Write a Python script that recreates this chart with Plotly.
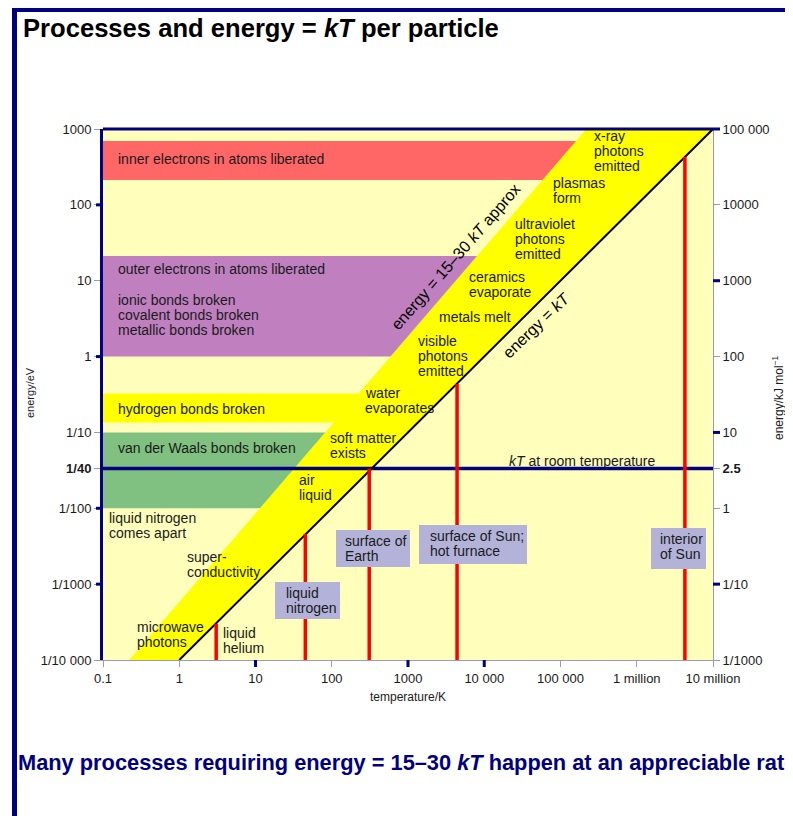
import math
import plotly.graph_objects as go

# ---------------- data ----------------
T_RANGE = [0.1, 1e7]          # temperature axis limits / K
E_RANGE = [1e-4, 1000]        # energy axis limits / eV

band_labels = ["inner electrons", "outer electrons", "hydrogen bonds", "van der Waals"]
band_low = [213, 1.0, 0.135, 0.01]
band_high = [695, 21.2, 0.326, 0.1]
band_colors = ["#FF6666", "#C080C0", "#FFFF00", "#80C080"]

# energy = kT line
kt_T = [1, 1e7]
kt_E = [1e-4, 1000]
# upper edge of the "energy = 15-30 kT" band
upper_T = [0.221, 2.18e5]
upper_E = [1e-4, 1000]

# red marker lines (temperature, top energy)
marker_names = ["liquid helium", "liquid nitrogen", "surface of Earth", "surface of Sun", "interior of Sun"]
marker_T = [3.05, 45, 310, 4400, 4.28e6]
marker_E = [3.0e-4, 4.6e-3, 0.0334, 0.435, 428]

room_kT = 0.0334

x_tick_vals = [0.1, 1, 10, 100, 1000, 1e4, 1e5, 1e6, 1e7]
x_tick_text = ["0.1", "1", "10", "100", "1000", "10 000", "100 000", "1 million", "10 million"]
y_tick_vals = [1000, 100, 10, 1, 0.1, 0.0334, 0.01, 0.001, 0.0001]
y_left_text = ["1000", "100", "10", "1", "1/10", "<b>1/40</b>", "1/100", "1/1000", "1/10 000"]
y_right_text = ["100 000", "10000", "1000", "100", "10", "<b>2.5</b>", "1", "1/10", "1/1000"]

left_navy_ticks = [100, 1, 0.01, 0.001]
right_navy_ticks = [10, 0.1, 0.001]
bottom_navy_ticks = [10, 1000, 1e4]

# ---------------- style ----------------
FONT = "Liberation Sans, Arial, sans-serif"
NAVY = "#000080"
LIGHT = "#FFFFBB"
GREY = "#9A9AC0"
BOX = "#B3B3D9"
TXT = "#1a1a1a"
PAGE_OFF = 8  # default body margin of the page

fig = go.Figure()

# horizontal bands
for name, lo, hi, col in zip(band_labels, band_low, band_high, band_colors):
    fig.add_trace(go.Scatter(
        x=[T_RANGE[0], T_RANGE[1], T_RANGE[1], T_RANGE[0], T_RANGE[0]],
        y=[lo, lo, hi, hi, lo], mode="lines", fill="toself", fillcolor=col,
        line=dict(width=0, color=col), hoverinfo="skip", showlegend=False, name=name))

# yellow 15-30 kT band
fig.add_trace(go.Scatter(
    x=[upper_T[0], upper_T[1], kt_T[1], kt_T[0], upper_T[0]],
    y=[upper_E[0], upper_E[1], kt_E[1], kt_E[0], upper_E[0]],
    mode="lines", fill="toself", fillcolor="#FFFF00", line=dict(width=0, color="#FFFF00"),
    hoverinfo="skip", showlegend=False))

# light region below kT line
fig.add_trace(go.Scatter(
    x=[kt_T[0], kt_T[1], T_RANGE[1], kt_T[0]],
    y=[kt_E[0], kt_E[1], E_RANGE[0], kt_E[0]],
    mode="lines", fill="toself", fillcolor=LIGHT, line=dict(width=0, color=LIGHT),
    hoverinfo="skip", showlegend=False))

# kT at room temperature line
fig.add_trace(go.Scatter(x=T_RANGE, y=[room_kT, room_kT], mode="lines",
                         line=dict(color=NAVY, width=3.5), hoverinfo="skip", showlegend=False))

# kT line
fig.add_trace(go.Scatter(x=kt_T, y=kt_E, mode="lines", line=dict(color="black", width=2),
                         hoverinfo="skip", showlegend=False))

# red marker lines
for name, t, e in zip(marker_names, marker_T, marker_E):
    fig.add_trace(go.Scatter(x=[t, t], y=[E_RANGE[0], e], mode="lines",
                             line=dict(color="#FF0000", width=3.5), hoverinfo="skip",
                             showlegend=False, name=name))

# invisible trace so the right axis is drawn
fig.add_trace(go.Scatter(x=[T_RANGE[0]], y=[E_RANGE[0]], yaxis="y2", mode="markers",
                         marker=dict(opacity=0), hoverinfo="skip", showlegend=False))

ann = []
shapes = []


def px_x(px):
    return (px - 103) / 610.0


def px_y(py):
    return (660 - py) / 531.0


def lab(lines, px, py_first, size=14, spacing=15):
    # one annotation per text line, left anchored at pixel column px
    for i, line in enumerate(lines):
        ann.append(dict(text=line, xref="paper", yref="paper", x=px_x(px), y=px_y(py_first + i * spacing),
                        xanchor="left", yanchor="middle", showarrow=False,
                        font=dict(family=FONT, size=size, color=TXT)))


lab(["inner electrons in atoms liberated"], 116, 159)
lab(["outer electrons in atoms liberated"], 116, 269)
lab(["ionic bonds broken", "covalent bonds broken", "metallic bonds broken"], 116, 300)
lab(["hydrogen bonds broken"], 116, 409)
lab(["van der Waals bonds broken"], 116, 448)
lab(["liquid nitrogen", "comes apart"], 107, 518)
lab(["super-", "conductivity"], 185, 557)
lab(["microwave", "photons"], 135, 627)
lab(["liquid", "helium"], 221, 633)
lab(["air", "liquid"], 297, 480)
lab(["soft matter", "exists"], 328, 438)
lab(["water", "evaporates"], 363, 393)
lab(["visible", "photons", "emitted"], 416, 341)
lab(["metals melt"], 437, 317)
lab(["ceramics", "evaporate"], 467, 277)
lab(["ultraviolet", "photons", "emitted"], 513, 224)
lab(["plasmas", "form"], 551, 183)
lab(["x-ray", "photons", "emitted"], 592, 136)

# rotated labels
ann.append(dict(text="energy = 15\u201330 <i>kT</i> approx", xref="paper", yref="paper",
                x=px_x(455), y=px_y(257), xanchor="center", yanchor="middle", textangle=-49,
                showarrow=False, font=dict(family=FONT, size=16, color="black")))
ann.append(dict(text="energy = <i>kT</i>", xref="paper", yref="paper",
                x=px_x(536), y=px_y(325), xanchor="center", yanchor="middle", textangle=-44,
                showarrow=False, font=dict(family=FONT, size=16, color="black")))
ann.append(dict(text="<i>kT</i> at room temperature", xref="paper", yref="paper",
                x=px_x(582), y=px_y(461), xanchor="center", yanchor="middle", showarrow=False,
                font=dict(family=FONT, size=14, color=TXT)))


# grey label boxes: background rectangle + text lines
def box(lines, x0, x1, y0, y1, tx, ty):
    shapes.append(dict(type="rect", xref="paper", yref="paper", x0=px_x(x0), x1=px_x(x1),
                       y0=px_y(y1), y1=px_y(y0), fillcolor=BOX, line=dict(width=0), layer="above"))
    lab(lines, tx, ty, size=14, spacing=15)


box(["surface of", "Earth"], 336, 410, 530, 567, 343, 541)
box(["liquid", "nitrogen"], 275, 340, 582, 619, 284, 593)
box(["surface of Sun;", "hot furnace"], 419, 527, 525, 564, 428, 536)
box(["interior", "of Sun"], 651, 706, 528, 569, 658, 539)

# axis titles
ann.append(dict(text="temperature/K", xref="paper", yref="paper", x=px_x(408), y=px_y(697),
                xanchor="center", yanchor="middle", showarrow=False,
                font=dict(family=FONT, size=12, color=TXT)))
ann.append(dict(text="energy/eV", xref="paper", yref="paper", x=px_x(30), y=px_y(393),
                xanchor="center", yanchor="middle", textangle=-90, showarrow=False,
                font=dict(family=FONT, size=11, color=TXT)))
ann.append(dict(text="energy/kJ mol<sup>\u22121</sup>", xref="paper", yref="paper", x=px_x(778),
                y=px_y(398), xanchor="center", yanchor="middle", textangle=-90, showarrow=False,
                font=dict(family=FONT, size=12, color=TXT)))

# title and footer
ann.append(dict(text="<b>Processes and energy = <i>kT</i> per particle</b>", xref="paper", yref="paper",
                x=px_x(21), y=px_y(28), xanchor="left", yanchor="middle", showarrow=False,
                font=dict(family=FONT, size=25.6, color="black")))
ann.append(dict(text="<b>Many processes requiring energy = 15\u201330 <i>kT</i> happen at an appreciable rate</b>",
                xref="paper", yref="paper", x=px_x(16), y=px_y(762), xanchor="left", yanchor="middle",
                showarrow=False, font=dict(family=FONT, size=21.8, color=NAVY)))

# frame bars
shapes.append(dict(type="line", xref="paper", yref="paper", x0=px_x(12), x1=px_x(800),
                   y0=px_y(9.5), y1=px_y(9.5), line=dict(color=NAVY, width=5)))
shapes.append(dict(type="line", xref="paper", yref="paper", x0=px_x(14.5), x1=px_x(14.5),
                   y0=px_y(7), y1=px_y(820), line=dict(color=NAVY, width=5)))
# top border of plot
shapes.append(dict(type="line", xref="paper", yref="paper", x0=0, x1=px_x(720),
                   y0=1, y1=1, line=dict(color=NAVY, width=3)))
# navy tick overlays
for v in left_navy_ticks:
    shapes.append(dict(type="line", xref="paper", yref="y", x0=px_x(96), x1=0, y0=v, y1=v,
                       line=dict(color=NAVY, width=3)))
for v in right_navy_ticks:
    shapes.append(dict(type="line", xref="paper", yref="y", x0=1, x1=px_x(720), y0=v, y1=v,
                       line=dict(color=NAVY, width=3)))
for v in bottom_navy_ticks:
    shapes.append(dict(type="line", xref="x", yref="paper", x0=v, x1=v, y0=0, y1=px_y(667),
                       line=dict(color=NAVY, width=3)))

tickfont = dict(family=FONT, size=13, color=TXT)
fig.update_layout(
    width=793 - PAGE_OFF, height=816 - PAGE_OFF,
    margin=dict(l=103 - PAGE_OFF, r=80, t=129 - PAGE_OFF, b=156),
    paper_bgcolor="white", plot_bgcolor=LIGHT,
    showlegend=False,
    xaxis=dict(type="log", range=[math.log10(T_RANGE[0]), math.log10(T_RANGE[1])],
               tickmode="array", tickvals=x_tick_vals, ticktext=x_tick_text,
               ticks="outside", ticklen=6, tickcolor=GREY, tickwidth=1,
               showline=True, linecolor=GREY, linewidth=1, showgrid=False, zeroline=False,
               tickfont=tickfont),
    yaxis=dict(type="log", range=[math.log10(E_RANGE[0]), math.log10(E_RANGE[1])],
               tickmode="array", tickvals=y_tick_vals, ticktext=y_left_text,
               ticks="outside", ticklen=6, tickcolor=GREY, tickwidth=1,
               showline=True, linecolor=NAVY, linewidth=3, showgrid=False, zeroline=False,
               tickfont=tickfont),
    yaxis2=dict(type="log", range=[math.log10(E_RANGE[0]), math.log10(E_RANGE[1])],
                overlaying="y", side="right",
                tickmode="array", tickvals=y_tick_vals, ticktext=y_right_text,
                ticks="outside", ticklen=6, tickcolor=GREY, tickwidth=1,
                showline=True, linecolor=GREY, linewidth=1, showgrid=False, zeroline=False,
                tickfont=tickfont),
    annotations=ann,
    shapes=shapes,
)

fig.write_html("out.html")
